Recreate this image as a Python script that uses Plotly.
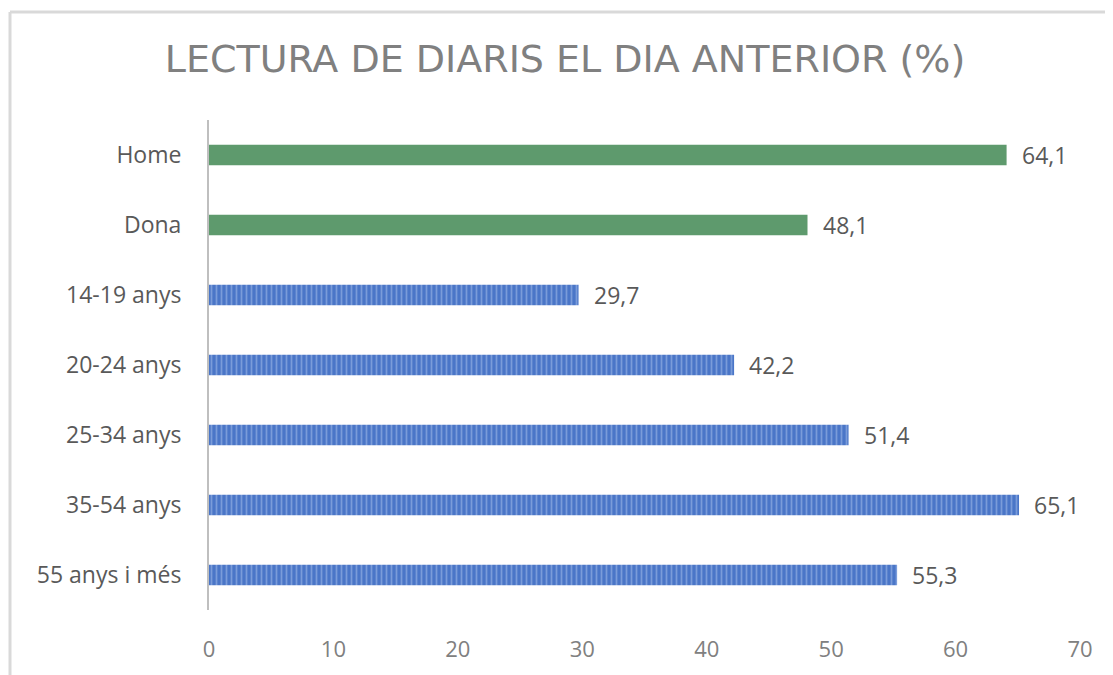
import plotly.graph_objects as go

categories = ["Home", "Dona", "14-19 anys", "20-24 anys", "25-34 anys", "35-54 anys", "55 anys i més"]
values = [64.1, 48.1, 29.7, 42.2, 51.4, 65.1, 55.3]
group = ["sexe", "sexe", "edat", "edat", "edat", "edat", "edat"]
x_ticks = [0, 10, 20, 30, 40, 50, 60, 70]

GREEN = "#5E9A6D"
BLUE = "#4A76C8"
BLUE_LIGHT = "#A9C1EC"
FONT = "Open Sans"

sex_cats = [c for c, g in zip(categories, group) if g == "sexe"]
sex_vals = [v for v, g in zip(values, group) if g == "sexe"]
age_cats = [c for c, g in zip(categories, group) if g == "edat"]
age_vals = [v for v, g in zip(values, group) if g == "edat"]

fig = go.Figure()
fig.add_trace(go.Bar(
    y=sex_cats, x=sex_vals, orientation="h", width=0.29,
    marker=dict(color=GREEN, line=dict(width=0)),
    showlegend=False, hoverinfo="x+y",
))
fig.add_trace(go.Bar(
    y=age_cats, x=age_vals, orientation="h", width=0.29,
    marker=dict(color=BLUE, line=dict(width=0),
                pattern=dict(shape="|", fgcolor=BLUE_LIGHT, bgcolor=BLUE,
                             size=5, solidity=0.35, fillmode="overlay")),
    showlegend=False, hoverinfo="x+y",
))

for c, v in zip(categories, values):
    fig.add_annotation(
        x=v, y=c, xref="x", yref="y",
        text=f"{v:.1f}".replace(".", ","),
        showarrow=False, xanchor="left", xshift=13,
        font=dict(family=FONT, size=23, color="#595959"),
    )

# page body has an 8px margin, so the figure is offset by 8px
W, H = 1105, 667
L, R, T, B = 201, 33, 112, 65
PW = W - L - R
PH = H - T - B

fig.update_layout(
    width=W, height=H,
    margin=dict(l=L, r=R, t=T, b=B),
    paper_bgcolor="white", plot_bgcolor="white",
    separators=", ",
    title=dict(
        text="LECTURA DE DIARIS EL DIA ANTERIOR (%)",
        x=(565 - 8) / W, xanchor="center", y=1 - (59 - 8) / H, yanchor="middle",
        font=dict(family="DejaVu Sans", size=38, color="#808080"),
    ),
    xaxis=dict(
        range=[0, 70], tickvals=x_ticks, showgrid=False, zeroline=False,
        showline=False, ticks="", ticklabelstandoff=24,
        tickfont=dict(family=FONT, size=22, color="#808080"),
        fixedrange=True,
    ),
    yaxis=dict(
        categoryorder="array", categoryarray=categories[::-1],
        range=[-0.5, len(categories) - 0.5],
        showgrid=False, zeroline=False, showline=True,
        linecolor="#BFBFBF", linewidth=2, ticks="",
        ticklabelstandoff=21,
        tickfont=dict(family=FONT, size=23, color="#595959"),
        fixedrange=True,
    ),
    shapes=[
        dict(type="line", xref="paper", yref="paper", x0=-(L - 2) / PW, x1=1 + R / PW,
             y0=1 + (T - 4) / PH, y1=1 + (T - 4) / PH,
             line=dict(color="#D9D9D9", width=3)),
        dict(type="line", xref="paper", yref="paper", x0=-(L - 2) / PW, x1=-(L - 2) / PW,
             y0=-B / PH, y1=1 + (T - 4) / PH,
             line=dict(color="#D9D9D9", width=3)),
    ],
)

fig.write_html("out.html")
